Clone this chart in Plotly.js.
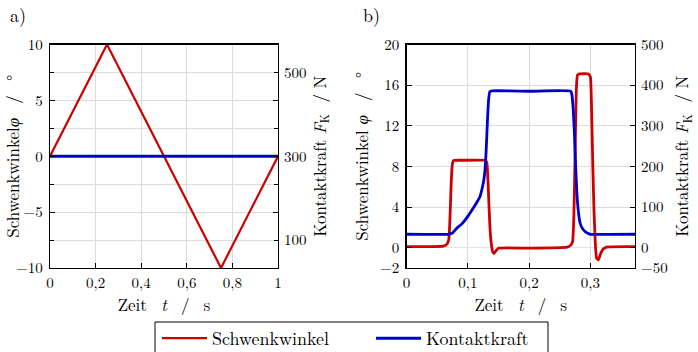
<!DOCTYPE html>
<html><head><meta charset="utf-8">
<script src="https://cdn.plot.ly/plotly-3.0.1.min.js"></script>
<style>html,body{margin:0;padding:0;background:#fff}#c{width:698px;height:352px}</style>
</head><body><div id="c"></div>
<script>
// Panel a)
const tA = [0, 0.25, 0.75, 1];
const phiA = [0, 10, -10, 0];
const tAF = [0, 1];
const fA = [300, 300];
// Panel b)
const tBphi = [0, 0.060, 0.066, 0.069, 0.071, 0.073, 0.075, 0.077, 0.080, 0.128, 0.131, 0.133, 0.135, 0.137, 0.139, 0.141, 0.143, 0.146, 0.150, 0.200, 0.262, 0.268, 0.271, 0.273, 0.275, 0.277, 0.279, 0.282, 0.297, 0.300, 0.302, 0.304, 0.306, 0.308, 0.310, 0.313, 0.316, 0.320, 0.326, 0.373];
const phiB = [0.1, 0.15, 0.35, 0.8, 3.0, 6.5, 8.3, 8.6, 8.6, 8.6, 8.4, 6.5, 3.5, 1.2, 0.1, -0.45, -0.55, -0.3, -0.05, -0.05, 0.05, 0.25, 0.6, 3.0, 9.0, 15.5, 17.0, 17.1, 17.1, 16.8, 13.5, 8.0, 3.5, 0.5, -1.0, -1.2, -0.7, -0.2, 0.05, 0.1];
const tBF = [0, 0.068, 0.075, 0.082, 0.090, 0.100, 0.110, 0.116, 0.120, 0.124, 0.126, 0.128, 0.130, 0.132, 0.134, 0.136, 0.140, 0.200, 0.268, 0.270, 0.272, 0.274, 0.276, 0.278, 0.280, 0.283, 0.287, 0.292, 0.298, 0.300, 0.373];
const fB = [33, 33, 36, 48, 58, 77, 100, 115, 126, 150, 165, 190, 240, 310, 365, 384, 386, 385, 385, 375, 340, 280, 200, 135, 95, 62, 47, 39, 34, 33, 33];
const xTicksA = [0, 0.2, 0.4, 0.6, 0.8, 1];
const yTicksA = [-10, -5, 0, 5, 10];
const y2TicksA = [100, 300, 500];
const xTicksB = [0, 0.1, 0.2, 0.3];
const yTicksB = [-2, 0, 4, 8, 12, 16, 20];
const y2TicksB = [-50, 0, 100, 200, 300, 400, 500];
const names = ['Schwenkwinkel', 'Kontaktkraft'];

const RED = '#cc0000', BLUE = '#0000cc';
const F = "'Latin Modern Roman', 'Liberation Serif', serif";
const TS = 17;
const traces = [
  {x: tA, y: phiA, xaxis: 'x', yaxis: 'y', mode: 'lines', name: names[0], legend: 'legend', line: {color: RED, width: 2.2}},
  {x: tAF, y: fA, xaxis: 'x', yaxis: 'y2', mode: 'lines', name: names[1], legend: 'legend2', line: {color: BLUE, width: 3}},
  {x: tBphi, y: phiB, xaxis: 'x2', yaxis: 'y3', mode: 'lines', name: names[0], showlegend: false, line: {color: RED, width: 2.8, shape: 'spline', smoothing: 0.4}},
  {x: tBF, y: fB, xaxis: 'x2', yaxis: 'y4', mode: 'lines', name: names[1], showlegend: false, line: {color: BLUE, width: 2.8, shape: 'spline', smoothing: 0.4}}
];
const dx1 = [50/698, 278/698], dx2 = [406.5/698, 635/698];
const dy = [(352-268)/352, (352-44.5)/352];
const tickfont = {family: F, size: 15, color: '#000'};
const tf = {family: F, size: TS, color: '#000'};
const base = {showline: true, linecolor: '#000', linewidth: 1.3, ticks: 'inside', ticklen: 5, tickcolor: '#000',
  gridcolor: '#dcdcdc', gridwidth: 1, zeroline: false, tickfont: tickfont, automargin: false};
const xt = 'Zeit&nbsp; <i>t</i>&nbsp; /&nbsp; s';
const kt = 'Kontaktkraft <i>F</i><sub>K</sub>  / N';
const legFont = {family: F, size: 18, color: '#000'};
const legTop = (352 - 320) / 352;
const layout = {
  width: 698, height: 352, margin: {l: 0, r: 0, t: 0, b: 0, autoexpand: false},
  paper_bgcolor: '#fff', plot_bgcolor: '#fff', separators: ',.',
  font: {family: F, size: 15, color: '#000'},
  xaxis: Object.assign({}, base, {domain: dx1, range: [0, 1], tickvals: xTicksA, mirror: true, anchor: 'y', ticklabelstandoff: 1, automargin: true,
    title: {text: xt, font: tf, standoff: 1}}),
  yaxis: Object.assign({}, base, {domain: dy, range: [-10, 10], tickvals: yTicksA, mirror: 'ticks', anchor: 'x', ticklabelstandoff: 3,
    minor: {dtick: 2.5, showgrid: true, gridcolor: '#dcdcdc', ticks: 'inside', ticklen: 4, tickcolor: '#000'},
    title: {text: 'Schwenkwinkel<i>φ</i>&nbsp; /&nbsp; °', font: tf, standoff: 6}}),
  yaxis2: {domain: dy, overlaying: 'y', side: 'right', anchor: 'x', range: [33.33, 566.67], tickvals: y2TicksA,
    showgrid: false, zeroline: false, showline: false, ticks: '', tickfont: tickfont, automargin: false, ticklabelstandoff: 5,
    title: {text: kt, font: tf, standoff: 8}},
  xaxis2: Object.assign({}, base, {domain: dx2, range: [0, 0.3728], tickvals: xTicksB, mirror: true, anchor: 'y3', ticklabelstandoff: 1, automargin: true,
    title: {text: xt, font: tf, standoff: 1}}),
  yaxis3: Object.assign({}, base, {domain: dy, range: [-2, 20], tickvals: yTicksB, mirror: 'ticks', anchor: 'x2', ticklabelstandoff: 3,
    zeroline: true, zerolinecolor: '#e4e4e4', zerolinewidth: 1,
    title: {text: 'Schwenkwinkel <i>φ</i>&nbsp; /&nbsp; °', font: tf, standoff: 7}}),
  yaxis4: {domain: dy, overlaying: 'y3', side: 'right', anchor: 'x2', range: [-50, 500], tickvals: y2TicksB,
    showgrid: false, zeroline: false, showline: false, ticks: '', tickfont: tickfont, automargin: false, ticklabelstandoff: 5,
    title: {text: kt, font: tf, standoff: 9}},
  showlegend: true,
  legend: {orientation: 'h', x: 157/698, xanchor: 'left', y: legTop, yanchor: 'top',
    borderwidth: 0, bgcolor: 'rgba(0,0,0,0)', font: legFont, itemwidth: 45},
  legend2: {orientation: 'h', x: 371/698, xanchor: 'left', y: legTop, yanchor: 'top',
    borderwidth: 0, bgcolor: 'rgba(0,0,0,0)', font: legFont, itemwidth: 45},
  shapes: [
    {type: 'rect', xref: 'paper', yref: 'paper', x0: 155/698, x1: 548/698, y0: -0.1, y1: (352-322)/352,
     line: {color: '#000', width: 1}, fillcolor: 'rgba(0,0,0,0)', layer: 'below'}
  ],
  annotations: [
    {text: 'a)', xref: 'paper', yref: 'paper', x: 8/698, y: (352-14)/352, xanchor: 'left', yanchor: 'middle', showarrow: false, font: {family: F, size: 18}},
    {text: 'b)', xref: 'paper', yref: 'paper', x: 361/698, y: (352-14)/352, xanchor: 'left', yanchor: 'middle', showarrow: false, font: {family: F, size: 18}}
  ]
};
Plotly.newPlot('c', traces, layout, {staticPlot: true, displayModeBar: false});
</script></body></html>
